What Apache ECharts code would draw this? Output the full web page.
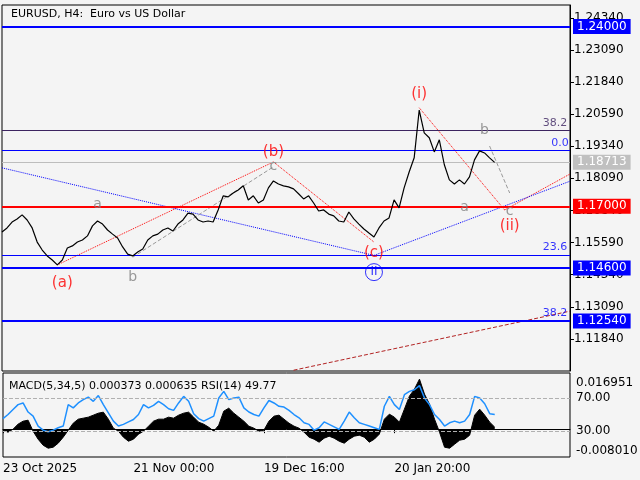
<!DOCTYPE html>
<html><head><meta charset="utf-8">
<script src="https://cdn.jsdelivr.net/npm/echarts@6/dist/echarts.min.js"></script>
<style>html,body{margin:0;padding:0;background:#f4f4f4}#c{width:640px;height:480px}</style>
</head><body><div id="c"></div>
<script>
const N = 114;
const tickLabels = [[0,'23 Oct 2025'],[26,'21 Nov 00:00'],[52,'19 Dec 16:00'],[78,'20 Jan 20:00']];
const closes = [1.1600,1.1616,1.1639,1.1651,1.1667,1.1647,1.1616,1.1561,1.1530,1.1507,1.1491,1.1472,1.1491,1.1538,1.1546,1.1561,1.1569,1.1585,1.1624,1.1643,
1.1631,1.1608,1.1592,1.1577,1.1542,1.1514,1.1507,1.1522,1.1534,1.1569,1.1585,1.1592,1.1608,1.1616,1.1604,1.1631,1.1647,1.1674,1.1670,1.1647,
1.1639,1.1643,1.1639,1.1686,1.1741,1.1737,1.1752,1.1764,1.1780,1.1725,1.1741,1.1713,1.1725,1.1772,1.1799,1.1787,1.1780,1.1776,1.1768,1.1749,
1.1729,1.1741,1.1713,1.1682,1.1686,1.1670,1.1663,1.1643,1.1639,1.1678,1.1651,1.1631,1.1612,1.1596,1.1581,1.1616,1.1643,1.1655,1.1725,1.1694,
1.1772,1.1834,1.1889,1.2075,1.1986,1.1967,1.1912,1.1959,1.1862,1.1803,1.1787,1.1803,1.1787,1.1815,1.1881,1.1916,1.1908,1.1889,1.18713];
const histPx = [-1,-3,0,5,8,9,-2,-10,-16,-19,-18,-14,-8,-1,6,10,11,12,14,16,17,10,1,-2,-8,-12,-10,-5,-2,3,8,10,10,12,11,14,16,17,12,7,5,2,-2,4,18,21,16,12,8,3,1,-2,-1,8,13,14,10,6,3,1,-3,-8,-10,-13,-9,-7,-9,-12,-14,-10,-7,-6,-8,-13,-10,-5,10,15,12,7,20,33,40,50,35,25,10,-3,-18,-19,-15,-11,-10,-6,14,20,14,7,2];
const macd = histPx.map(v => +(v*0.000367).toFixed(6));
const rsi = [45,50,56,62,64,53,48,36,31,29,31,34,36,62,58,64,68,71,66,73,62,52,42,36,38,41,44,50,62,58,61,66,62,57,55,64,72,66,51,45,42,45,48,70,78,68,70,71,58,53,50,48,58,67,64,60,59,55,50,46,40,38,31,34,41,38,35,32,42,53,46,40,38,36,34,32,60,72,62,56,74,78,80,85,70,62,50,44,36,40,42,40,42,50,72,70,63,51,50];
const levels = [
 {v:1.24,c:'#0000ff',w:2,box:'1.24000'},
 {v:1.17,c:'#ff0000',w:2,box:'1.17000'},
 {v:1.146,c:'#0000ff',w:2,box:'1.14600'},
 {v:1.1254,c:'#0000ff',w:2,box:'1.12540'},
 {v:1.1995,c:'#3c2460',w:1},
 {v:1.192,c:'#0000ff',w:1},
 {v:1.1511,c:'#0000ff',w:1},
 {v:1.18713,c:'#bdbdbd',w:1,box:'1.18713'}
];
const waveLabels = [
 [12,1.1401,'(a)','#ff0000',15],[26,1.1425,'b','#808080',14],[19,1.1709,'a','#808080',14],
 [54,1.1912,'(b)','#ff0000',15],[54,1.1854,'c','#808080',14],[74,1.1518,'(c)','#ff0000',15],
 [83,1.2138,'(i)','#ff0000',15],[96,1.1994,'b','#808080',14],[92,1.1698,'a','#808080',14],
 [101,1.1682,'c','#808080',14],[101,1.1624,'(ii)','#ff0000',15],
 [110,1.2025,'38.2','#3c2460',11],[111,1.1947,'0.0','#0000ff',11],[110,1.1542,'23.6','#0000ff',11],[110,1.1284,'38.2','#0000ff',11]
];
const segments = [
 [[11,1.1472],[54,1.1873],'#ff0000','dotted'],
 [[54,1.1873],[74,1.1561],'#ff0000','dotted'],
 [[83,1.2084],[100,1.1686],'#ff0000','dotted'],
 [[100,1.1686],[113,1.1826],'#ff0000','dotted'],
 [[0,1.1850],[74,1.1509],'#0000ff','dotted'],
 [[74,1.1509],[113,1.1798],'#0000ff','dotted'],
 [[58,1.1062],[113,1.1292],'#b22222','dashed'],
 [[26,1.1502],[54,1.1854],'#999999','dashed'],
 [[97,1.1935],[101,1.1752],'#999999','dashed']
];
const cats = Array.from({length:N},(_,i)=>{const t=tickLabels.find(t=>t[0]===i);return t?t[1]:'';});
const tickIdx = tickLabels.map(t=>t[0]);
const F = 'DejaVu Sans';
const series = [];
series.push({type:'line',data:closes,symbol:'none',lineStyle:{color:'#000',width:1.2},z:5,
 markLine:{symbol:'none',silent:true,animation:false,precision:5,data:levels.map(l=>({yAxis:l.v,lineStyle:{color:l.c,width:l.w,type:'solid'},
  label:l.box?{show:true,position:'end',formatter:l.box,color:'#fff',backgroundColor:l.c==='#bdbdbd'?'#c0c0c0':l.c,padding:[2,4,1,4],fontSize:12,fontFamily:F,distance:3}:{show:false}}))}});
segments.forEach(s=>series.push({type:'line',data:[s[0],s[1]],symbol:'none',lineStyle:{color:s[2],width:1,type:s[3]},z:3}));
series.push({type:'scatter',data:waveLabels.map(w=>({value:[w[0],w[1]],label:{show:true,formatter:w[2],color:w[3],fontSize:w[4],fontFamily:F}})),symbolSize:0,z:6,label:{position:'inside'}});
series.push({type:'scatter',data:[{value:[74,1.1444]}],symbol:'circle',symbolSize:17,itemStyle:{color:'rgba(0,0,0,0)',borderColor:'#0000ff',borderWidth:1},
 label:{show:true,position:'inside',formatter:'II',color:'#0000ff',fontSize:12,fontFamily:F},z:6});
series.push({type:'line',xAxisIndex:1,yAxisIndex:1,data:macd,symbol:'none',lineStyle:{color:'#000',width:1},areaStyle:{color:'#000',opacity:1,origin:0},
 markLine:{symbol:'none',silent:true,animation:false,precision:6,data:[
  {yAxis:0.016951,lineStyle:{color:'rgba(0,0,0,0)',width:1},label:{show:true,position:'end',formatter:'0.016951',color:'#000',fontSize:12,fontFamily:F,distance:6}},
  {yAxis:-0.00801,lineStyle:{color:'rgba(0,0,0,0)',width:1},label:{show:true,position:'end',formatter:'-0.008010',color:'#000',fontSize:12,fontFamily:F,distance:6}}]}});
series.push({type:'line',xAxisIndex:1,yAxisIndex:2,data:rsi,symbol:'none',lineStyle:{color:'#1e90ff',width:1.5},z:4,
 markLine:{symbol:'none',silent:true,animation:false,data:[
  {yAxis:70,lineStyle:{color:'#b0b0b0',type:'dashed',width:1},label:{position:'end',formatter:'70.00',color:'#000',fontSize:12,fontFamily:F,distance:6}},
  {yAxis:30,lineStyle:{color:'#b0b0b0',type:'dashed',width:1},label:{position:'end',formatter:'30.00',color:'#000',fontSize:12,fontFamily:F,distance:6}}]}});
const chart = echarts.init(document.getElementById('c'),null,{renderer:'canvas'});
chart.setOption({
 animation:false,backgroundColor:'#f4f4f4',
 title:[{text:'EURUSD, H4:  Euro vs US Dollar',left:6,top:4,textStyle:{fontSize:11,fontWeight:'normal',fontFamily:F,color:'#000'}},
  {text:'MACD(5,34,5) 0.000373 0.000635 RSI(14) 49.77',left:4,top:376,textStyle:{fontSize:11,fontWeight:'normal',fontFamily:F,color:'#000'}}],
 grid:[{left:2,right:70,top:5,height:366,show:true,borderColor:'#000',borderWidth:1,backgroundColor:'transparent'},
  {left:2,right:70,top:373,height:84,show:true,borderColor:'#000',borderWidth:1,backgroundColor:'transparent'}],
 xAxis:[{type:'category',data:cats,boundaryGap:false,gridIndex:0,axisLabel:{show:false},axisTick:{show:false},axisLine:{show:false}},
  {type:'category',data:cats,boundaryGap:false,gridIndex:1,axisLine:{lineStyle:{color:'#000'}},
   axisTick:{interval:(i)=>tickIdx.includes(i),length:4,lineStyle:{color:'#000'}},
   axisLabel:{interval:(i)=>tickIdx.includes(i),color:'#000',fontSize:12,fontFamily:F,margin:6,align:'left'}}],
 yAxis:[{type:'value',gridIndex:0,position:'right',min:1.1059,max:1.2484,interval:0.0125,splitLine:{show:false},
   axisLine:{show:true,lineStyle:{color:'#000'}},axisTick:{show:true,length:4,lineStyle:{color:'#000'}},
   axisLabel:{showMinLabel:false,showMaxLabel:false,color:'#000',fontSize:12,fontFamily:F,margin:4,formatter:v=>v.toFixed(5)}},
  {type:'value',gridIndex:1,position:'right',min:-0.0102,max:0.0206,show:false,splitLine:{show:false}},
  {type:'value',gridIndex:1,position:'right',min:-1.5,max:100.3,show:false,splitLine:{show:false}}],
 series
});
</script></body></html>
